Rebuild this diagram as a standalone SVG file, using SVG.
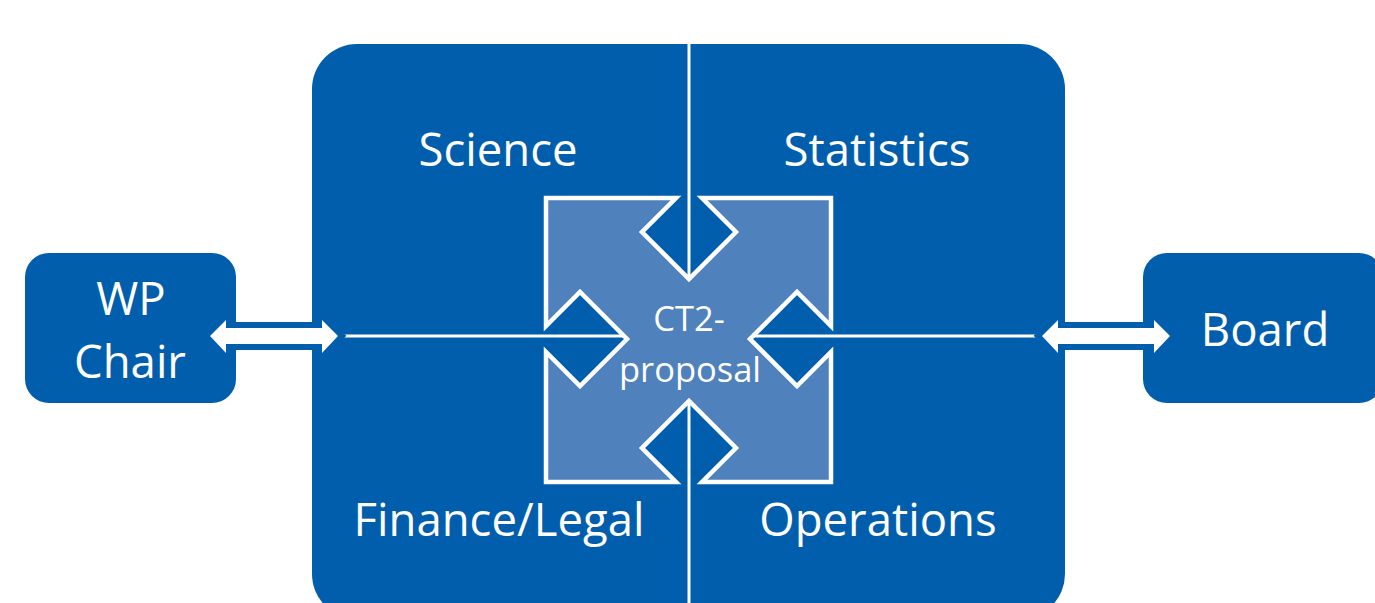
<svg xmlns="http://www.w3.org/2000/svg" width="1375" height="603" viewBox="0 0 1375 603">
  <style>
    .box { fill: #015EAC; }
    .lbl { font-family: "Open Sans", "Liberation Sans", sans-serif; fill: #FFFFFF; text-anchor: middle; }
    .big { font-size: 45.5px; }
    .small { font-size: 34.5px; }
    .line { stroke: #FFFFFF; stroke-width: 3; fill: none; }
    .darrow { fill: #FFFFFF; stroke: #015EAC; stroke-width: 12; stroke-linejoin: miter; paint-order: stroke; }
  </style>
  <rect width="1375" height="603" fill="#FFFFFF"/>

  <g id="main-panel">
    <rect class="box" x="312" y="44" width="753" height="575" rx="45" ry="45"/>
    <text class="lbl big" x="498" y="166">Science</text>
    <text class="lbl big" x="877" y="166">Statistics</text>
    <text class="lbl big" x="499" y="536">Finance/Legal</text>
    <text class="lbl big" x="878" y="536">Operations</text>
  </g>

  <g id="wp-chair">
    <rect class="box" x="25" y="253" width="211" height="150" rx="24" ry="24"/>
    <text class="lbl big" x="131" y="315">WP</text>
    <text class="lbl big" x="130" y="378">Chair</text>
  </g>

  <g id="board">
    <rect class="box" x="1143" y="253" width="240" height="150" rx="24" ry="24"/>
    <text class="lbl big" x="1265" y="346">Board</text>
  </g>

  <g id="connectors">
    <line class="line" x1="689" y1="44" x2="689" y2="279"/>
    <line class="line" x1="689" y1="401" x2="689" y2="603"/>
    <line class="line" x1="343" y1="336" x2="627" y2="336"/>
    <line class="line" x1="750" y1="336" x2="1036" y2="336"/>
    <polygon class="darrow" points="210,336 226,320 226,328 322,328 322,320 338,336 322,353 322,344 226,344 226,353"/>
    <polygon class="darrow" points="1042,336 1058,320 1058,328 1154,328 1154,320 1170,336 1154,353 1154,344 1058,344 1058,353"/>
  </g>

  <g id="ct2-proposal">
    <polygon fill="#4F81BD" stroke="#FFFFFF" stroke-width="4.5" stroke-linejoin="miter"
      points="546,198 676,198 642,232 689,279 736,232 702,198 831,198 831,326 797,292 750,339 797,386 831,352 831,482 702,482 736,448 689,401 642,448 676,482 546,482 546,352 580,386 627,339 580,292 546,326"/>
    <text class="lbl small" x="689" y="331">CT2-</text>
    <text class="lbl small" x="690" y="382">proposal</text>
  </g>
</svg>
